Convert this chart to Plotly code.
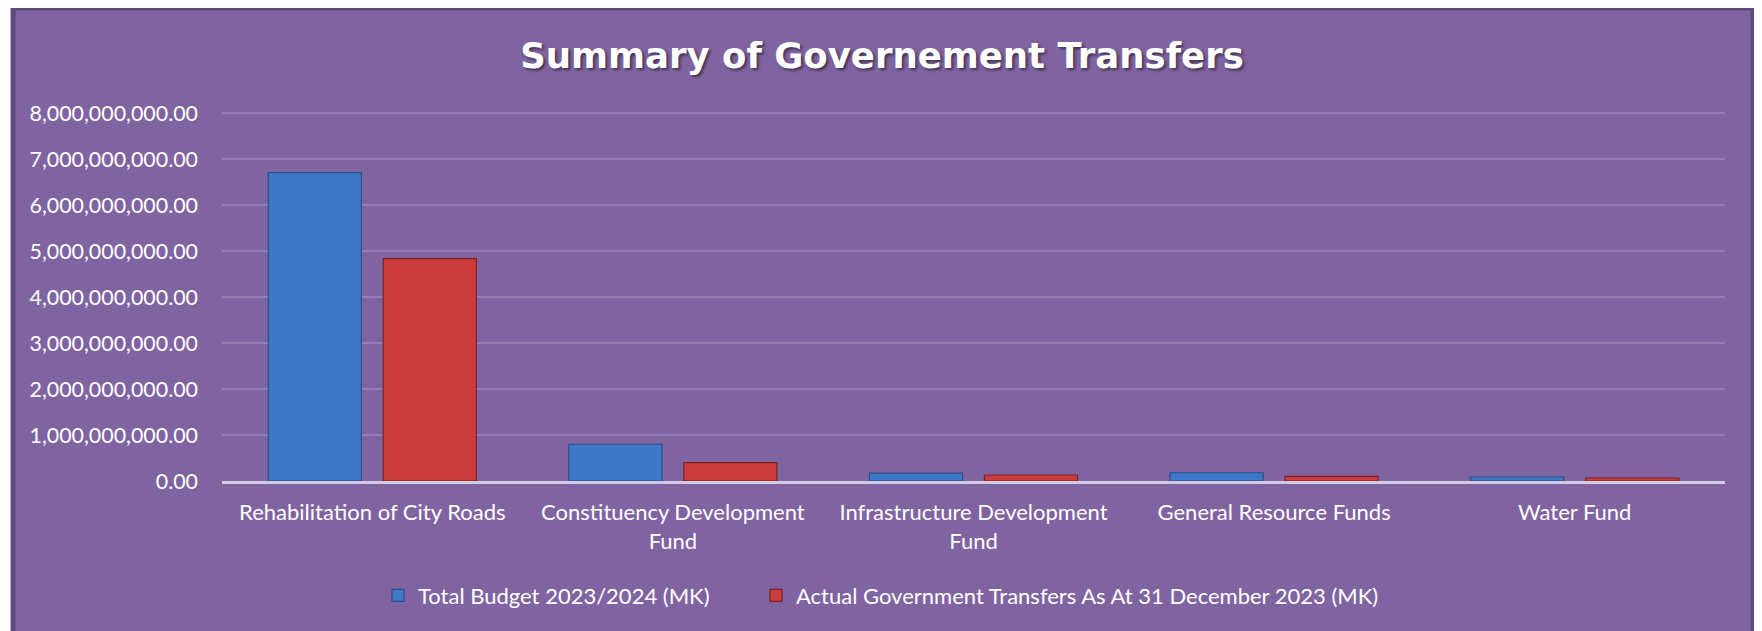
import plotly.graph_objects as go

# ---- data ----
categories = [
    "Rehabilitation of City Roads",
    "Constituency Development Fund",
    "Infrastructure Development Fund",
    "General Resource Funds",
    "Water Fund",
]
tick_labels = [
    "Rehabilitation of City Roads",
    "Constituency Development<br>Fund",
    "Infrastructure Development<br>Fund",
    "General Resource Funds",
    "Water Fund",
]
budget_2023_2024 = [6.71e9, 0.80e9, 0.17e9, 0.18e9, 0.087e9]
actual_transfers = [4.84e9, 0.40e9, 0.13e9, 0.10e9, 0.065e9]
y_ticks = [0, 1e9, 2e9, 3e9, 4e9, 5e9, 6e9, 7e9, 8e9]
y_max = 8.05e9

series_names = [
    "Total Budget 2023/2024 (MK)",
    "Actual Government Transfers As At 31 December 2023 (MK)",
]

# page has an 8px body margin, so the figure is sized to fit inside it
W, H = 1754, 623
ML, MR, MT, MB = 213.5, 37, 103.2, 149.5
BG = "#8064A2"
BORDER = "#5E4A7E"
FONT = "Lato"

fig = go.Figure()
fig.add_trace(go.Bar(
    x=categories, y=budget_2023_2024, name=series_names[0],
    legendwidth=333,
    marker=dict(color="#3E79C9", line=dict(color="#2A4F85", width=1.2)),
))
fig.add_trace(go.Bar(
    x=categories, y=actual_transfers, name=series_names[1],
    marker=dict(color="#CC3D3D", line=dict(color="#7A2222", width=1.2)),
))

pw = W - ML - MR
ph = H - MT - MB


def px_x(p):
    return (p - ML) / pw


def px_y(p):
    return (H - MB - p) / ph


# outer frame (purple panel with a dark border)
fig.add_shape(
    type="rect", xref="paper", yref="paper", layer="below",
    x0=px_x(4.5), x1=px_x(1745),
    y0=px_y(H + 30), y1=px_y(0),
    fillcolor=BG, line=dict(color=BORDER, width=5),
)

fig.update_layout(
    width=W, height=H, autosize=False,
    margin=dict(l=ML, r=MR, t=MT, b=MB, pad=0),
    paper_bgcolor="white",
    plot_bgcolor="rgba(0,0,0,0)",
    font=dict(family=FONT, size=22, color="white"),
    title=dict(
        text="Summary of Governement Transfers",
        x=(874 / W), xref="container", xanchor="center",
        y=1 - 48 / H, yref="container", yanchor="middle",
        font=dict(family="DejaVu Sans", size=35.5, color="white", weight="bold",
                  shadow="2px 2px 3px rgba(0,0,0,0.5)"),
    ),
    barmode="group",
    bargap=0.235,
    bargroupgap=0.19,
    showlegend=True,
    legend=dict(
        orientation="h",
        x=873 / W, xref="container", xanchor="center",
        y=1 - 587.5 / H, yref="container", yanchor="middle",
        font=dict(family=FONT, size=22, color="white"),
        bgcolor="rgba(0,0,0,0)",
        itemclick=False,
    ),
    xaxis=dict(
        type="category",
        tickmode="array", tickvals=categories, ticktext=tick_labels,
        showgrid=False, zeroline=False,
        showline=True, linecolor="rgba(220,214,230,0.9)", linewidth=3,
        layer="above traces",
        ticks="", ticklabelstandoff=10,
        tickfont=dict(family=FONT, size=22, color="white"),
    ),
    yaxis=dict(
        range=[0, y_max],
        tickmode="array", tickvals=y_ticks,
        tickformat=",.2f",
        showgrid=True, gridcolor="rgba(255,255,255,0.17)", gridwidth=1.5,
        zeroline=False, showline=False,
        ticks="", ticklabelstandoff=23,
        tickfont=dict(family=FONT, size=21.4, color="white"),
    ),
)

fig.write_html("out.html")
